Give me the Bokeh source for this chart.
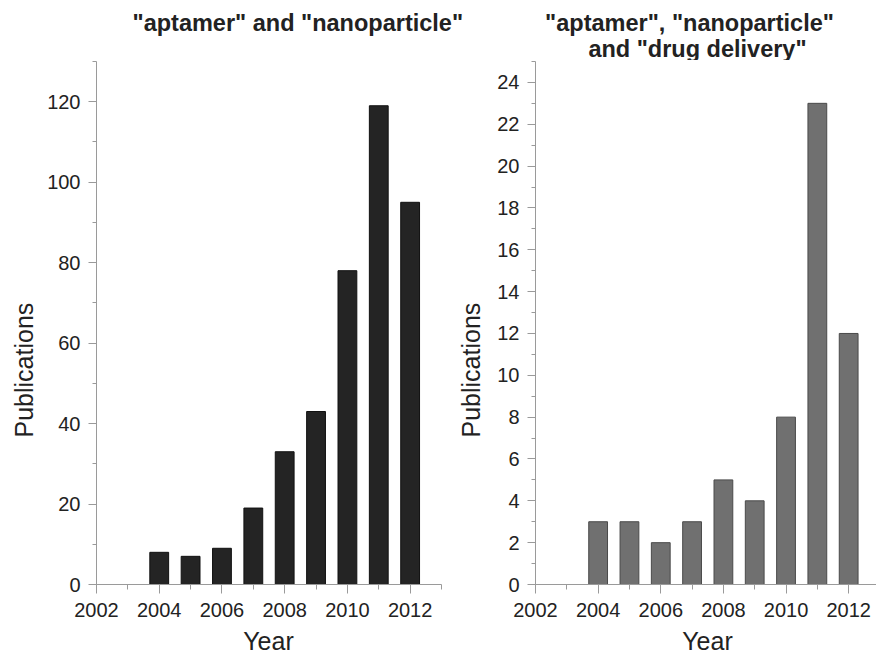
from bokeh.plotting import figure
from bokeh.layouts import row, column
from bokeh.models import SingleIntervalTicker, Range1d, Title
from bokeh.core.properties import value
from bokeh.embed import file_html
from bokeh.resources import INLINE

# ---- data ----
years = [2004, 2005, 2006, 2007, 2008, 2009, 2010, 2011, 2012]
pubs_np = [8, 7, 9, 19, 33, 43, 78, 119, 95]
pubs_dd = [3, 3, 2, 3, 5, 4, 8, 23, 12]

title_left = '"aptamer" and "nanoparticle"'
title_right_1 = '"aptamer", "nanoparticle"'
title_right_2 = 'and "drug delivery"'
ylabel = "Publications"
xlabel = "Year"

FONT = "Liberation Sans"
AXIS_COL = "#9a9a9a"
TEXT_COL = "#222222"

W = 876
TITLE_H = 60
FOOT_H = 32
H = 656 - TITLE_H - FOOT_H
TOP = 1
FRAME_BOTTOM = 584
BOTTOM = TITLE_H + H - FRAME_BOTTOM


def make_fig(width, left, right, x0, x1, y1, ytick, bar_fill, bar_line, vals, ylab_standoff):
    p = figure(width=width, height=H, output_backend="svg", toolbar_location=None,
               x_range=Range1d(x0, x1), y_range=Range1d(0, y1),
               min_border_left=left, min_border_right=right,
               min_border_top=TOP, min_border_bottom=BOTTOM)
    p.outline_line_color = None
    p.grid.grid_line_color = None
    p.background_fill_color = "white"
    p.border_fill_color = "white"
    p.vbar(x=years, top=vals, width=0.6, bottom=0, fill_color=bar_fill,
           line_color=bar_line, line_width=1)
    p.xaxis.ticker = SingleIntervalTicker(interval=2, num_minor_ticks=2)
    p.yaxis.ticker = SingleIntervalTicker(interval=ytick, num_minor_ticks=2)
    for ax in (p.xaxis, p.yaxis):
        ax.axis_line_color = AXIS_COL
        ax.major_tick_line_color = AXIS_COL
        ax.minor_tick_line_color = AXIS_COL
        ax.major_tick_in = 0
        ax.minor_tick_in = 0
        ax.major_label_text_font = FONT
        ax.major_label_text_font_size = "20px"
        ax.major_label_text_color = TEXT_COL
    p.xaxis.major_tick_out = 9
    p.xaxis.minor_tick_out = 5
    p.yaxis.major_tick_out = 8
    p.yaxis.minor_tick_out = 4
    p.xaxis.major_label_standoff = 9
    p.yaxis.major_label_standoff = 8
    # y label as a left-side title so it can sit below the frame centre
    p.add_layout(Title(text=ylabel, align="left", offset=147, standoff=ylab_standoff,
                       text_font=FONT, text_font_size="25px", text_font_style="normal",
                       text_color=TEXT_COL), "left")
    return p


def strip(height):
    s = figure(width=W, height=height, output_backend="svg", toolbar_location=None,
               x_range=Range1d(0, W), y_range=Range1d(0, height),
               x_axis_type=None, y_axis_type=None, min_border=0)
    s.outline_line_color = None
    s.grid.grid_line_color = None
    return s


# ---- title strip (spans both panels) ----
pt = strip(TITLE_H)
tkw = dict(text_font=value(FONT), text_font_size="23.5px", text_font_style="bold",
           text_color=TEXT_COL, text_baseline="alphabetic")
pt.text(x=[132], y=[TITLE_H - 22], text=[title_left], text_align="left", **tkw)
pt.text(x=[689], y=[TITLE_H - 22], text=[title_right_1], text_align="center", **tkw)
pt.text(x=[697], y=[TITLE_H - 48], text=[title_right_2], text_align="center", **tkw)

# ---- x-axis label strip ----
pf = strip(FOOT_H)
pf.text(x=[268, 707], y=[16, 16], text=[xlabel, xlabel], text_align="center",
        text_baseline="alphabetic", text_font=value(FONT), text_font_size="25px",
        text_color=TEXT_COL)

# ---- left panel ----
p1 = make_fig(445, 93, 4, 2002, 2013, 130, 20, "#242424", "#111111", pubs_np, 14)

# ---- right panel ----
R_FL, R_FR = 533, 876
R_X0 = 2002
R_X1 = R_X0 + (R_FR - R_FL) / 31.5
p2 = make_fig(431, R_FL - 445, 0, R_X0, R_X1, 25, 2, "#707070", "#4a4a4a", pubs_dd, 19)

layout = column(pt, row(p1, p2), pf)
open("out.html", "w").write(file_html(layout, INLINE))
